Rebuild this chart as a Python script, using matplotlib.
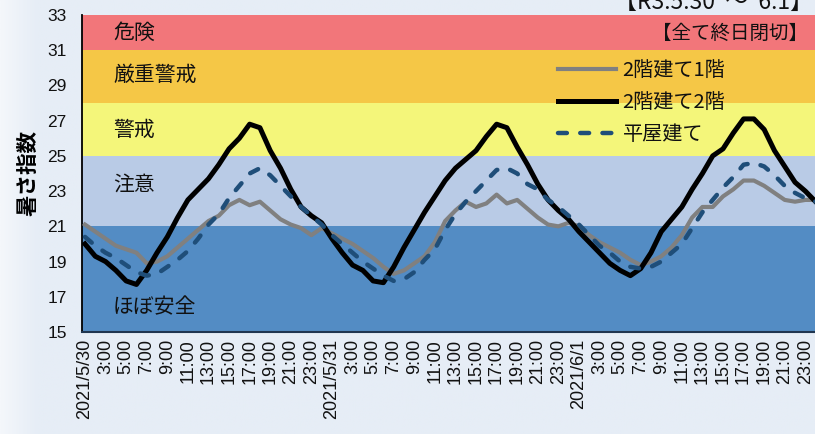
import matplotlib
matplotlib.use("Agg")
import matplotlib.pyplot as plt
import numpy as np
from matplotlib.colors import LinearSegmentedColormap

plt.rcParams['font.family'] = ['Noto Sans CJK JP', 'DejaVu Sans']

# ---------------- data ----------------
series_names = ["2階建て1階", "2階建て2階", "平屋建て"]

floor2_1f = [21.1, 20.7, 20.3, 19.9, 19.7, 19.5, 18.9, 19.0, 19.3, 19.8, 20.3, 20.8,
             21.3, 21.6, 22.2, 22.5, 22.2, 22.4, 21.9, 21.4, 21.1, 20.9, 20.5, 20.9,
             20.6, 20.3, 20.0, 19.6, 19.2, 18.7, 18.3, 18.5, 18.9, 19.3, 20.1, 21.3,
             21.9, 22.4, 22.1, 22.3, 22.8, 22.3, 22.5, 22.0, 21.5, 21.1, 21.0, 21.2,
             21.0, 20.5, 20.1, 19.8, 19.5, 19.1, 18.8, 19.0, 19.3, 19.8, 20.5, 21.5,
             22.1, 22.1, 22.7, 23.1, 23.6, 23.6, 23.3, 22.9, 22.5, 22.4, 22.5, 22.5]

floor2_2f = [20.0, 19.3, 19.0, 18.5, 17.9, 17.7, 18.5, 19.5, 20.4, 21.5, 22.5, 23.1,
             23.7, 24.5, 25.4, 26.0, 26.8, 26.6, 25.3, 24.3, 23.1, 22.1, 21.6, 21.2,
             20.3, 19.5, 18.8, 18.5, 17.9, 17.8, 18.7, 19.8, 20.8, 21.8, 22.7, 23.6,
             24.3, 24.8, 25.3, 26.1, 26.8, 26.6, 25.5, 24.5, 23.4, 22.5, 21.9, 21.4,
             20.7, 20.1, 19.5, 18.9, 18.5, 18.2, 18.6, 19.5, 20.7, 21.4, 22.1, 23.1,
             24.0, 25.0, 25.4, 26.3, 27.1, 27.1, 26.5, 25.3, 24.4, 23.5, 23.0, 22.4]

single_floor = [20.4, 19.9, 19.5, 19.2, 18.8, 18.4, 18.2, 18.3, 18.7, 19.1, 19.6, 20.3,
                21.1, 21.7, 22.6, 23.3, 24.0, 24.3, 23.9, 23.3, 22.7, 22.1, 21.6, 21.1,
                20.5, 20.0, 19.5, 19.0, 18.6, 18.2, 17.9, 18.0, 18.4, 19.1, 19.7, 20.8,
                21.7, 22.4, 23.0, 23.6, 24.2, 24.3, 24.0, 23.4, 23.1, 22.5, 22.1, 21.6,
                21.1, 20.5, 19.9, 19.5, 19.0, 18.7, 18.6, 18.7, 19.0, 19.5, 20.0, 20.9,
                21.8, 22.5, 23.2, 23.8, 24.5, 24.6, 24.4, 23.9, 23.3, 22.9, 22.6, 22.4]

tick_labels = ["2021/5/30", "3:00", "5:00", "7:00", "9:00", "11:00", "13:00", "15:00",
               "17:00", "19:00", "21:00", "23:00",
               "2021/5/31", "3:00", "5:00", "7:00", "9:00", "11:00", "13:00", "15:00",
               "17:00", "19:00", "21:00", "23:00",
               "2021/6/1", "3:00", "5:00", "7:00", "9:00", "11:00", "13:00", "15:00",
               "17:00", "19:00", "21:00", "23:00"]

band_edges = [15, 21, 25, 28, 31, 33]
band_names = ["ほぼ安全", "注意", "警戒", "厳重警戒", "危険"]
band_colors = ["#538CC4", "#B9CBE6", "#F4F67A", "#F5C746", "#F2767A"]

title_text = "【R3.5.30  ～  6.1】"
note_text = "【全て終日閉切】"
ylabel_text = "暑さ指数"

# ---------------- figure ----------------
W, H = 815, 434
fig = plt.figure(figsize=(W / 100, H / 100), dpi=100)
fig.patch.set_facecolor("#E6EDF6")

# soft lighter gradient on the far left
bg = fig.add_axes([0, 0, 1, 1], zorder=-10)
xs = np.linspace(0, 1, 400)
grad = np.vstack([np.clip(1 - xs / 0.045, 0, 1)] * 2)
cmap = LinearSegmentedColormap.from_list("g", ["#E6EDF6", "#F4F7FB"])
bg.imshow(grad, aspect="auto", cmap=cmap, extent=[0, 1, 0, 1], vmin=0, vmax=1)
bg.set_axis_off()

ax_left, ax_right = 82, 815
ax_top, ax_bottom = 15, 332
ax = fig.add_axes([ax_left / W, 1 - ax_bottom / H,
                   (ax_right - ax_left) / W, (ax_bottom - ax_top) / H])

x = np.arange(len(floor2_2f))

for lo, hi, c in zip(band_edges[:-1], band_edges[1:], band_colors):
    ax.axhspan(lo, hi, color=c, zorder=0, lw=0)

ax.plot(x, floor2_1f, color="#808080", lw=3.0, solid_joinstyle="round",
        label=series_names[0], zorder=3)
ax.plot(x, floor2_2f, color="#000000", lw=3.6, solid_joinstyle="round",
        label=series_names[1], zorder=4)
ax.plot(x, single_floor, color="#1F4E79", lw=3.2, linestyle=(0, (2, 3)),
        dash_capstyle="round", label=series_names[2], zorder=5)

ax.set_xlim(-0.29, 70.94)
ax.set_ylim(15, 33)
ax.set_yticks(np.arange(15, 34, 2))
ax.set_xticks(np.arange(0, len(x), 2))
ax.set_xticklabels(tick_labels, rotation=90, fontsize=13,
                   family=["Liberation Sans", "DejaVu Sans"])
ax.set_yticklabels([str(v) for v in range(15, 34, 2)], fontsize=12.5,
                   family=["Liberation Sans", "DejaVu Sans"])
ax.tick_params(axis="x", length=0, pad=5, colors="#111111")
ax.tick_params(axis="y", length=0, pad=11, colors="#111111")

for s in ["top", "right"]:
    ax.spines[s].set_visible(False)
ax.spines["left"].set_color("#000000")
ax.spines["left"].set_linewidth(1.3)
ax.spines["bottom"].set_color("#1F3550")
ax.spines["bottom"].set_linewidth(1.5)

ax.set_ylabel(ylabel_text, fontsize=15.5, fontweight="bold", labelpad=6)

# band labels
band_label_y = [307, 185, 130, 75, 33]
for name, yp in zip(band_names, band_label_y):
    ax.text((113 - ax_left) / (ax_right - ax_left), (ax_bottom - yp) / (ax_bottom - ax_top),
            name, transform=ax.transAxes, fontsize=15, va="center", ha="left",
            color="#111111", zorder=6)

ax.text((808 - ax_left) / (ax_right - ax_left), (ax_bottom - 33) / (ax_bottom - ax_top),
        note_text, transform=ax.transAxes, fontsize=14, va="center", ha="right",
        color="#111111", zorder=6)

fig.text(0.998, 1 - 9 / H, title_text, fontsize=16.5, ha="right", va="baseline",
         color="#111111")

leg = ax.legend(loc="upper left",
                bbox_to_anchor=((558 - ax_left) / (ax_right - ax_left),
                                (ax_bottom - 60) / (ax_bottom - ax_top)),
                frameon=False, fontsize=14.5, handlelength=2.9, handletextpad=0.3,
                labelspacing=0.55, borderpad=0, borderaxespad=0)
for t in leg.get_texts():
    t.set_color("#111111")

fig.savefig("out.png", dpi=100, facecolor=fig.get_facecolor())
